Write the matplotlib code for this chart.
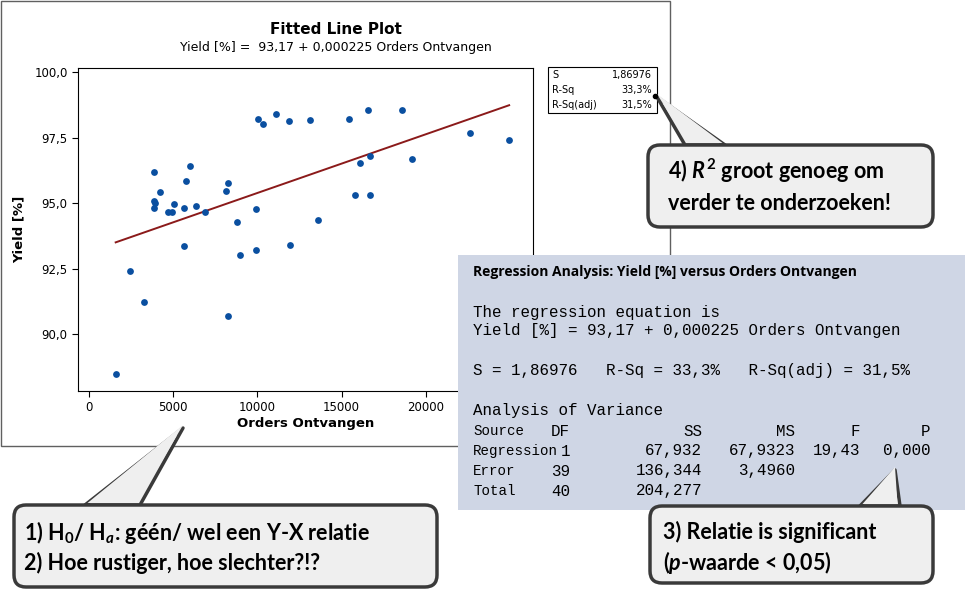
import matplotlib
matplotlib.use('Agg')
import matplotlib.pyplot as plt
import numpy as np
from matplotlib.patches import FancyBboxPatch, Polygon, Rectangle

plt.rcParams['mathtext.fontset'] = 'custom'
plt.rcParams['mathtext.rm'] = 'Lato:bold'
plt.rcParams['mathtext.it'] = 'Lato:bold:italic'
plt.rcParams['mathtext.bf'] = 'Lato:bold'

# Data
orders = [1584, 2436, 3248, 3881, 3881, 3920, 3881, 4198, 4693, 4931, 5030,
          5644, 5743, 6020, 5644, 6376, 6891, 8139, 8277, 8238, 8792, 8970,
          9901, 9941, 10020, 10356, 11089, 11881, 11960, 13129, 13624, 15426,
          15782, 16119, 16554, 16713, 16713, 18614, 19208, 22634, 24950]
yield_pct = [88.49, 92.43, 91.22, 96.20, 95.08, 95.01, 94.83, 95.43, 94.68, 94.68, 94.96,
             94.81, 95.85, 96.41, 93.38, 94.90, 94.67, 95.46, 95.79, 90.71, 94.30, 93.05,
             93.23, 94.78, 98.22, 98.04, 98.42, 98.16, 93.41, 98.19, 94.36, 98.24,
             95.32, 96.53, 98.55, 96.81, 95.34, 98.55, 96.68, 97.68, 97.42]
x_ticks = [0, 5000, 10000, 15000, 20000, 25000]
y_ticks = [90.0, 92.5, 95.0, 97.5, 100.0]
y_tick_labels = ['90,0', '92,5', '95,0', '97,5', '100,0']

W, H = 965, 593
fig = plt.figure(figsize=(W / 100, H / 100), dpi=100)
fig.patch.set_facecolor('white')

def fr(x0, y0, x1, y1):
    return [x0 / W, 1 - y1 / H, (x1 - x0) / W, (y1 - y0) / H]

# scatter axes
ax = fig.add_axes(fr(78, 68, 533, 391))
x = np.array(orders)
y = np.array(yield_pct)
b, a = np.polyfit(x, y, 1)
xl = np.array([x.min(), x.max()])
ax.plot(xl, a + b * xl, color='#8b1a1a', lw=1.4, zorder=2)
ax.scatter(x, y, s=24, color='#0a4fa0', zorder=3, linewidths=0)
ax.set_xlim(-653, 26366)
ax.set_ylim(87.84, 100.17)
ax.set_xticks(x_ticks)
ax.set_yticks(y_ticks)
ax.set_yticklabels(y_tick_labels)
ax.tick_params(labelsize=8.5, length=4)
ax.set_xlabel('Orders Ontvangen', fontsize=9.5, fontweight='bold', labelpad=2)
ax.set_ylabel('Yield [%]', fontsize=9.5, fontweight='bold', labelpad=6)

# overlay in pixel coords
ov = fig.add_axes([0, 0, 1, 1], zorder=5)
ov.set_xlim(0, W)
ov.set_ylim(H, 0)
ov.axis('off')
ov.patch.set_alpha(0)

# chart panel border (below everything)
bg = fig.add_axes([0, 0, 1, 1], zorder=-1)
bg.set_xlim(0, W); bg.set_ylim(H, 0); bg.axis('off')
bg.add_patch(Rectangle((0.5, 0.5), 669, 445, fill=False, ec='#606060', lw=1))

ov.text(336, 29, 'Fitted Line Plot', ha='center', va='center', fontsize=11, fontweight='bold')
ov.text(336, 47, 'Yield [%] =  93,17 + 0,000225 Orders Ontvangen', ha='center', va='center', fontsize=9)

# stats box
ov.add_patch(Rectangle((548, 67), 109, 46, fill=False, ec='black', lw=0.8))
for i, (k, v) in enumerate([('S', '1,86976'), ('R-Sq', '33,3%'), ('R-Sq(adj)', '31,5%')]):
    ov.text(552, 75 + 15 * i, k, fontsize=7, va='center')
    ov.text(652, 75 + 15 * i, v, fontsize=7, va='center', ha='right')

# regression box
ov.add_patch(Rectangle((458, 255), 507, 255, fc='#cfd6e5', ec='none'))
ov.text(473, 272, 'Regression Analysis: Yield [%] versus Orders Ontvangen',
        family='Open Sans', fontsize=10, fontweight='bold', va='center')
mono = dict(family='Liberation Mono', fontsize=11.4, va='center')
monos = dict(family='Liberation Mono', fontsize=10.2, va='center')
ov.text(473, 312, 'The regression equation is', **mono)
ov.text(473, 331, 'Yield [%] = 93,17 + 0,000225 Orders Ontvangen', **mono)
ov.text(473, 371, 'S = 1,86976   R-Sq = 33,3%   R-Sq(adj) = 31,5%', **mono)
ov.text(473, 411, 'Analysis of Variance', **mono)
rows = [('Source', 'DF', 'SS', 'MS', 'F', 'P'),
        ('Regression', '1', '67,932', '67,9323', '19,43', '0,000'),
        ('Error', '39', '136,344', '3,4960', '', ''),
        ('Total', '40', '204,277', '', '', '')]
col_x = [570, 702, 795, 860, 930]
for i, r in enumerate(rows):
    yy = 431 + 20 * i
    ov.text(473, yy, r[0], **monos)
    for cx, v in zip(col_x, r[1:]):
        ov.text(cx, yy, v, ha='right', **mono)

# callouts
def callout(x0, y0, x1, y1, tail):
    fc, ec = '#efefef', '#3a3a3a'
    ov.add_patch(Polygon(tail, closed=True, fc=fc, ec=ec, lw=2.5, joinstyle='round'))
    ov.add_patch(FancyBboxPatch((x0, y0), x1 - x0, y1 - y0,
                                boxstyle='round,pad=0,rounding_size=12',
                                fc=fc, ec=ec, lw=2.5))
    t = np.array(tail, dtype=float)
    d = -2 if t[0][1] > t[1][1] else 2
    ov.add_patch(Polygon([t[0] + [2.5, d], t[1] + [0, 3 * np.sign(-d) * -1], t[2] + [-2.5, d]],
                         closed=True, fc=fc, ec='none'))

callout(14, 505, 437, 587, [(85, 505), (183, 428), (140, 505)])
callout(650, 506, 933, 583, [(860, 506), (895, 470), (900, 506)])
callout(648, 145, 933, 227, [(685, 145), (657, 97), (725, 145)])
ov.plot([655], [96], 'o', color='black', ms=3)

big = dict(family='Lato', fontsize=15.5, fontweight='bold', va='center')
ov.text(24, 532, r'1) H$_0$/ H$_a$: géén/ wel een Y-X relatie', **big)
ov.text(24, 563, '2) Hoe rustiger, hoe slechter?!?', **big)
ov.text(663, 532, '3) Relatie is significant', **big)
ov.text(663, 563, r'($p$-waarde < 0,05)', **big)
ov.text(668, 171, r'4) $R^2$ groot genoeg om', **big)
ov.text(668, 203, 'verder te onderzoeken!', **big)

fig.savefig('out.png', dpi=100)
